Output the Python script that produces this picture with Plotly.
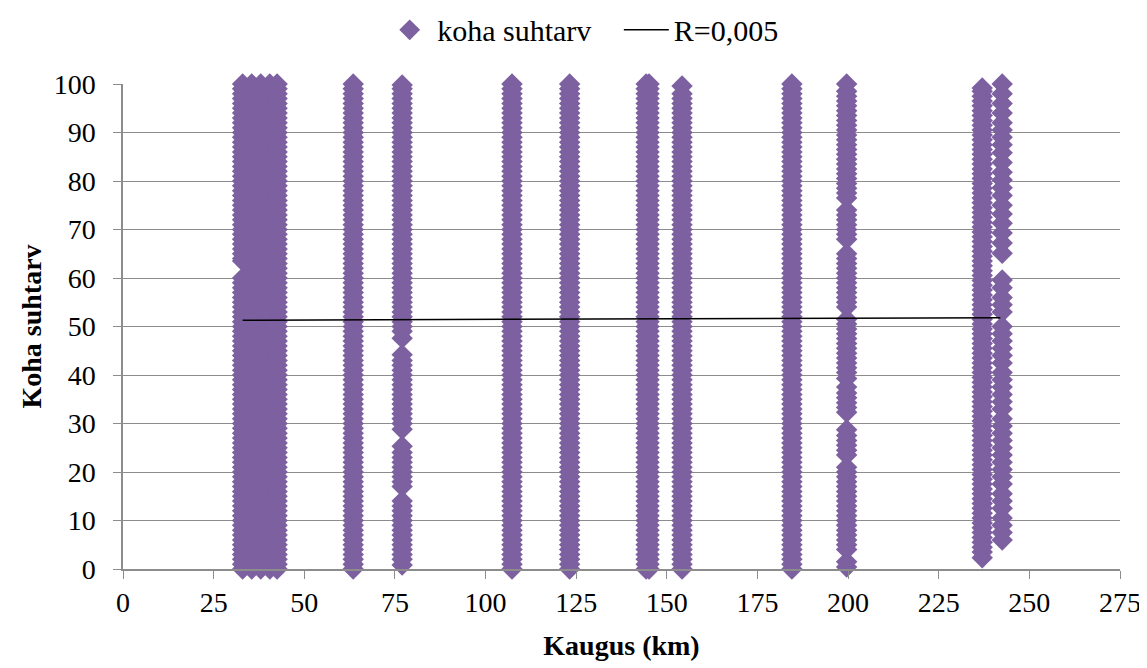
import plotly.graph_objects as go

# Distances (km) of each column of points
col_x = [33, 35.5, 38, 40.5, 42.5, 63.5, 77, 107.3, 123.2, 144.3, 145.1, 154.2, 184.5, 199.6, 237, 242.5]

# Relative time values read per column (solid columns are read as filled 0..100)
y_full = [0, 1, 2, 3, 4, 5, 6, 7, 8, 9, 10, 11, 12, 13, 14, 15, 16, 17, 18, 19, 20,
          21, 22, 23, 24, 25, 26, 27, 28, 29, 30, 31, 32, 33, 34, 35, 36, 37, 38, 39, 40,
          41, 42, 43, 44, 45, 46, 47, 48, 49, 50, 51, 52, 53, 54, 55, 56, 57, 58, 59, 60,
          61, 62, 63, 64, 65, 66, 67, 68, 69, 70, 71, 72, 73, 74, 75, 76, 77, 78, 79, 80,
          81, 82, 83, 84, 85, 86, 87, 88, 89, 90, 91, 92, 93, 94, 95, 96, 97, 98, 99, 100]
y_33 = [0, 1, 2, 3, 4, 5, 6, 7, 8, 9, 10, 11, 12, 13, 14, 15, 16, 17, 18, 19, 20,
        21, 22, 23, 24, 25, 26, 27, 28, 29, 30, 31, 32, 33, 34, 35, 36, 37, 38, 39, 40,
        41, 42, 43, 44, 45, 46, 47, 48, 49, 50, 51, 52, 53, 54, 55, 56, 57, 58, 59, 60,
        63.5, 64, 65, 66, 67, 68, 69, 70, 71, 72, 73, 74, 75, 76, 77, 78, 79, 80,
        81, 82, 83, 84, 85, 86, 87, 88, 89, 90, 91, 92, 93, 94, 95, 96, 97, 98, 99, 100]
y_77 = [0.8, 2, 3, 4, 5, 6, 7, 8, 9, 10, 11, 12, 13, 14, 17, 18, 19, 20, 21, 22, 23, 24,
        25.3, 28.8, 30, 31, 32, 33, 34, 35, 36, 37, 38, 39, 40, 41, 42, 43, 44.2, 47.6,
        49, 50, 51, 52, 53, 54, 55, 56, 57, 58, 59, 60, 61, 62, 63, 64, 65, 66, 67, 68,
        69, 70, 71, 72, 73, 74, 75, 76, 77, 78, 79, 80, 81, 82, 83, 84, 85, 86, 87, 88,
        89, 90, 91, 92, 93, 94, 95, 96, 97, 98, 99, 99.8]
y_154 = [0, 1, 2, 3, 4, 5, 6, 7, 8, 9, 10, 11, 12, 13, 14, 15, 16, 17, 18, 19, 20,
         21, 22, 23, 24, 25, 26, 27, 28, 29, 30, 31, 32, 33, 34, 35, 36, 37, 38, 39, 40,
         41, 42, 43, 44, 45, 46, 47, 48, 49, 50, 51, 52, 53, 54, 55, 56, 57, 58, 59, 60,
         61, 62, 63, 64, 65, 66, 67, 68, 69, 70, 71, 72, 73, 74, 75, 76, 77, 78, 79, 80,
         81, 82, 83, 84, 85, 86, 87, 88, 89, 90, 91, 92, 93, 94, 95, 96, 97, 98, 99.6]
y_199 = [0.4, 1.5, 4, 5, 6, 7, 8, 9, 10, 11, 12, 13, 14, 15, 16, 17, 18, 19, 20, 21,
         23.5, 24.5, 25.5, 26.5, 27.5, 28.7, 32.3, 33.3, 34.3, 35.3, 36.3, 37.5, 39.3,
         40.5, 41.5, 42.5, 43.5, 44.5, 45.5, 46.5, 47.5, 48.5, 49.5, 50.5, 51.5, 54,
         55, 56, 57, 58, 59, 60, 61, 62, 63, 64, 65, 68, 69, 70, 71, 72, 73, 74, 76.5,
         77.5, 78.5, 79.5, 80.5, 81.5, 82.5, 83.5, 84.5, 85.5, 86.5, 87.5, 88.5, 89.5,
         90.5, 91.5, 92.5, 93.5, 94.5, 95.5, 96.5, 97.5, 98.5, 100]
y_237 = [2.3, 3.5, 4.5, 5.5, 6.5, 7.5, 8.5, 9.5, 10.5, 11.5, 12.5, 13.5, 14.5, 15.5,
         16.5, 17.5, 18.5, 19.5, 20.5, 21.5, 22.5, 23.5, 24.5, 25.5, 26.5, 27.5, 28.5,
         29.5, 30.5, 31.5, 32.5, 33.5, 34.5, 35.5, 36.5, 37.5, 38.5, 39.5, 40.5, 41.5,
         42.5, 43.5, 44.5, 45.5, 46.5, 47.5, 48.5, 49.5, 50.5, 51.5, 52.5, 53.5, 54.5,
         55.5, 56.5, 57.5, 58.5, 59.5, 60.5, 61.5, 62.5, 63.5, 64.5, 65.5, 66.5, 67.5,
         68.5, 69.5, 70.5, 71.5, 72.5, 73.5, 74.5, 75.5, 76.5, 77.5, 78.5, 79.5, 80.5,
         81.5, 82.5, 83.5, 84.5, 85.5, 86.5, 87.5, 88.5, 89.5, 90.5, 91.5, 92.5, 93.5,
         94.5, 95.5, 96.5, 97.5, 98.5, 99.2]
y_242 = [6, 7.5, 9, 10.5, 12.5, 14, 15.5, 17.5, 19, 20.5, 22, 23.5, 25, 26.5, 28, 29.5,
         31, 33, 34.5, 36, 37.5, 39, 40.5, 42.5, 44, 45.5, 47, 48.5, 50, 53, 54.5, 56,
         58, 59.6, 65.1, 67.2, 69.3, 71.3, 73.2, 75, 77, 78.6, 80.2, 81.8, 83.8, 85.8,
         87.5, 89, 90.5, 92, 94, 96, 98, 100]

col_y = [y_33, y_full, y_full, y_full, y_full, y_full, y_77, y_full, y_full, y_full,
         y_full, y_154, y_full, y_199, y_237, y_242]

# Linear trend line end points
trend_x = [33, 242]
trend_y = [51.3, 51.8]

x_ticks = [0, 25, 50, 75, 100, 125, 150, 175, 200, 225, 250, 275]
y_ticks = [0, 10, 20, 30, 40, 50, 60, 70, 80, 90, 100]

pts_x, pts_y = [], []
for xv, ys in zip(col_x, col_y):
    for yv in ys:
        pts_x.append(xv)
        pts_y.append(yv)

FONT = "Liberation Serif, Times New Roman, serif"
PURPLE = "#7D60A0"
GRID = "#8C8C8C"
FS = 28

fig = go.Figure()
fig.add_trace(go.Scatter(
    x=pts_x, y=pts_y, mode="markers", name="koha suhtarv\u00a0\u00a0\u00a0",
    marker=dict(symbol="diamond", size=16.5, color=PURPLE, line=dict(width=0)),
    cliponaxis=False,
))
fig.add_trace(go.Scatter(
    x=trend_x, y=trend_y, mode="lines", name="R=0,005",
    line=dict(color="black", width=1.5), cliponaxis=False,
))

fig.update_layout(
    width=1139, height=660,
    margin=dict(l=115, r=27, t=76, b=99, autoexpand=False),
    paper_bgcolor="white", plot_bgcolor="white",
    font=dict(family=FONT, size=FS, color="black"),
    showlegend=True,
    legend=dict(orientation="h", xref="container", x=0.505, xanchor="center",
                yref="container", y=0.967, yanchor="middle",
                font=dict(family=FONT, size=30), itemwidth=45, traceorder="normal"),
    xaxis=dict(
        range=[0, 275], tickvals=x_ticks, ticktext=[str(t) for t in x_ticks],
        showgrid=False, zeroline=False, showline=True, linecolor=GRID, linewidth=1.5,
        ticks="outside", ticklen=8, tickcolor=GRID, automargin=False,
        tickfont=dict(family=FONT, size=FS),
        title=dict(text="<b>Kaugus (km)</b>", font=dict(family=FONT, size=FS), standoff=18),
    ),
    yaxis=dict(
        range=[0, 100], tickvals=y_ticks, ticktext=[str(t) for t in y_ticks],
        showgrid=True, gridcolor=GRID, gridwidth=1.2, zeroline=False,
        showline=True, linecolor=GRID, linewidth=1.5,
        ticks="outside", ticklen=8, tickcolor=GRID, automargin=False,
        ticklabelstandoff=12,
        tickfont=dict(family=FONT, size=FS),
        title=dict(text="<b>Koha suhtarv</b>", font=dict(family=FONT, size=FS), standoff=4),
    ),
)

fig.write_html("out.html")
